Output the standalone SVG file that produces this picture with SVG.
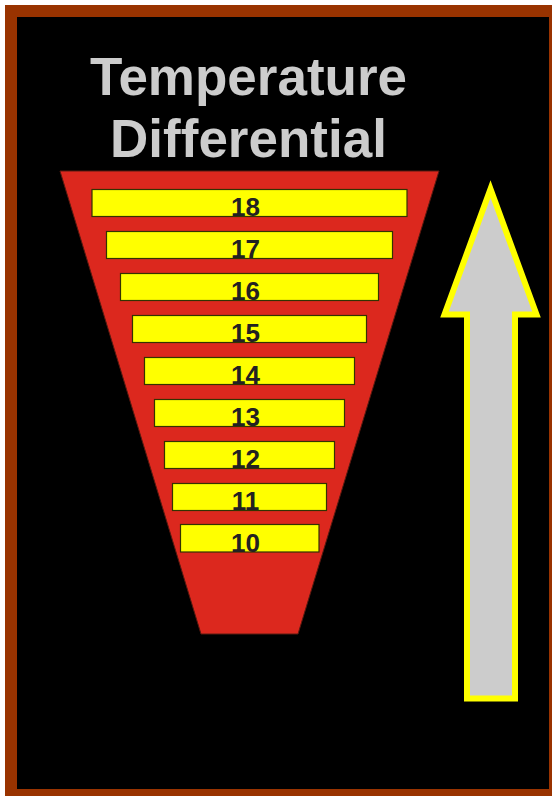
<svg xmlns="http://www.w3.org/2000/svg" width="552" height="796" viewBox="0 0 552 796">
<style>
.bar{fill:#ffff00;stroke:#333300;stroke-width:1.2}
.lbl{font-family:"Liberation Sans",Arial,sans-serif;font-weight:bold;font-size:26px;fill:#222222;text-anchor:middle}
.title{font-family:"Liberation Sans",Arial,sans-serif;font-weight:bold;font-size:53px;fill:#cccccc;text-anchor:middle}
</style>
<rect x="0" y="0" width="552" height="796" fill="#ffffff"/>
<rect id="frame" x="11" y="11" width="544" height="784" fill="#000000" stroke="#993300" stroke-width="12"/>
<g id="title">
<text class="title" x="248.5" y="95">Temperature</text>
<text class="title" x="248.5" y="157">Differential</text>
</g>
<g id="funnel">
<polygon points="60,171 439,171 298,634 201,634" fill="#dc281e" stroke="#5a1a10" stroke-width="1"/>
</g>
<g id="bar18"><rect class="bar" x="92" y="189.5" width="315" height="27"/><text class="lbl" x="245.5" y="216">18</text></g>
<g id="bar17"><rect class="bar" x="106.5" y="231.5" width="286" height="27"/><text class="lbl" x="245.5" y="258">17</text></g>
<g id="bar16"><rect class="bar" x="120.5" y="273.5" width="258" height="27"/><text class="lbl" x="245.5" y="300">16</text></g>
<g id="bar15"><rect class="bar" x="132.5" y="315.5" width="234" height="27"/><text class="lbl" x="245.5" y="342">15</text></g>
<g id="bar14"><rect class="bar" x="144.5" y="357.5" width="210" height="27"/><text class="lbl" x="245.5" y="384">14</text></g>
<g id="bar13"><rect class="bar" x="154.5" y="399.5" width="190" height="27"/><text class="lbl" x="245.5" y="426">13</text></g>
<g id="bar12"><rect class="bar" x="164.5" y="441.5" width="170" height="27"/><text class="lbl" x="245.5" y="468">12</text></g>
<g id="bar11"><rect class="bar" x="172.5" y="483.5" width="154" height="27"/><text class="lbl" x="245.5" y="510">11</text></g>
<g id="bar10"><rect class="bar" x="180.5" y="524.5" width="138.5" height="27.5"/><text class="lbl" x="245.5" y="551.5">10</text></g>
<g id="arrow">
<polygon points="490.5,189 536.5,314.5 515,314.5 515,698.5 467,698.5 467,314.5 444.5,314.5" fill="#cccccc" stroke="#ffff00" stroke-width="6"/>
</g>
</svg>
